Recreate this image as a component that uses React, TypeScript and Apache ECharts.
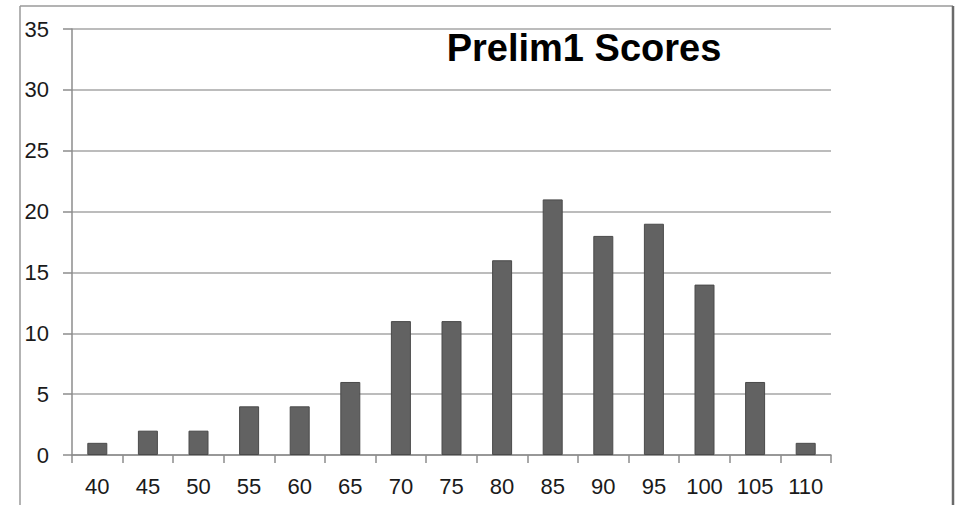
import React, { useEffect, useRef } from "react";
import * as echarts from "echarts";

const categories = ["40", "45", "50", "55", "60", "65", "70", "75", "80", "85", "90", "95", "100", "105", "110"];
const counts = [1, 2, 2, 4, 4, 6, 11, 11, 16, 21, 18, 19, 14, 6, 1];
const titleText = "Prelim1 Scores";

export default function App() {
  const ref = useRef<HTMLDivElement>(null);
  useEffect(() => {
    const chart = echarts.init(ref.current!, undefined, { renderer: "svg" });
    const font = "'Liberation Sans', 'DejaVu Sans', sans-serif";
    chart.setOption({
      animation: false,
      backgroundColor: "#ffffff",
      title: {
        text: titleText,
        left: 579,
        top: 24,
        textAlign: "center",
        textStyle: { fontFamily: font, fontWeight: "bold", fontSize: 38, color: "#000000" },
      },
      graphic: [
        {
          type: "line",
          shape: { x1: 20, y1: 6, x2: 953, y2: 6 },
          style: { stroke: "#9a9a9a", lineWidth: 1.5 },
        },
        {
          type: "line",
          shape: { x1: 20, y1: 6, x2: 20, y2: 510 },
          style: { stroke: "#9a9a9a", lineWidth: 1.5 },
        },
        {
          type: "line",
          shape: { x1: 953, y1: 6, x2: 953, y2: 510 },
          style: { stroke: "#6a6a6a", lineWidth: 2.5 },
        },
      ],
      grid: { left: 72, right: 127, top: 29, bottom: 50, containLabel: false },
      xAxis: {
        type: "category",
        data: categories,
        axisLine: { show: true, lineStyle: { color: "#8c8c8c", width: 1.5 } },
        axisTick: { show: true, alignWithLabel: false, length: 8, lineStyle: { color: "#8c8c8c", width: 1.5 } },
        axisLabel: { fontFamily: font, fontSize: 22, color: "#1a1a1a", margin: 20 },
      },
      yAxis: {
        type: "value",
        min: 0,
        max: 35,
        interval: 5,
        axisLine: { show: true, lineStyle: { color: "#8c8c8c", width: 1.5 } },
        axisTick: { show: true, length: 9, lineStyle: { color: "#8c8c8c", width: 1.5 } },
        axisLabel: { fontFamily: font, fontSize: 22, color: "#1a1a1a", margin: 23 },
        splitLine: { show: true, lineStyle: { color: "#a6a6a6", width: 1.5 } },
      },
      series: [
        {
          type: "bar",
          data: counts,
          barWidth: 20,
          itemStyle: { color: "#626262", borderColor: "#4a4a4a", borderWidth: 1 },
        },
      ],
    });
    return () => chart.dispose();
  }, []);
  return <div ref={ref} style={{ position: "fixed", left: 0, top: 0, width: 958, height: 505 }} />;
}
